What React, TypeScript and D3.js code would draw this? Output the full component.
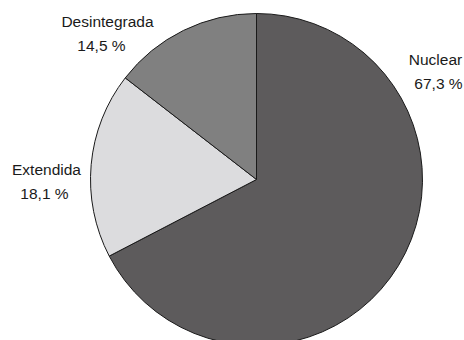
import React from "react";
import * as d3 from "d3";

const categories = ["Nuclear", "Extendida", "Desintegrada"];
const values = [67.3, 18.1, 14.5];
const valueLabels = ["67,3 %", "18,1 %", "14,5 %"];
const colors = ["#5d5b5c", "#dcdcde", "#808080"];

const W = 464;
const H = 340;
const cx = 256.5;
const cy = 179.5;
const R = 166;

// label anchor for each slice (centre x, baseline of first line)
const labelPos: Record<string, [number, number, number]> = {
  Nuclear: [435.5, 65, 438.5],
  Extendida: [46.5, 175, 44.5],
  Desintegrada: [107.5, 27, 101.5],
};

export default function App() {
  const data = categories.map((c, i) => ({ c, v: values[i], label: valueLabels[i], color: colors[i] }));
  const pie = d3.pie<any>().sort(null).value((d) => d.v);
  const arc = d3.arc<any>().innerRadius(0).outerRadius(R);
  const arcs = pie(data);
  return (
    <svg width={W} height={H} style={{ position: "absolute", left: 0, top: 0, background: "#fff" }}>
      <g transform={`translate(${cx},${cy})`}>
        {arcs.map((a, i) => (
          <path key={i} d={arc(a) as string} fill={a.data.color} stroke="#1a1a1a" strokeWidth={1} strokeLinejoin="round" />
        ))}
      </g>
      {arcs.map((a, i) => {
        const [x1, y1, x2] = labelPos[a.data.c];
        return (
          <g key={i} fontFamily="'Liberation Sans', Arial, sans-serif" fontSize={15.5} fill="#1a1a1a" textAnchor="middle">
            <text x={x1} y={y1}>{a.data.c}</text>
            <text x={x2} y={y1 + 23.5}>{a.data.label}</text>
          </g>
        );
      })}
    </svg>
  );
}
